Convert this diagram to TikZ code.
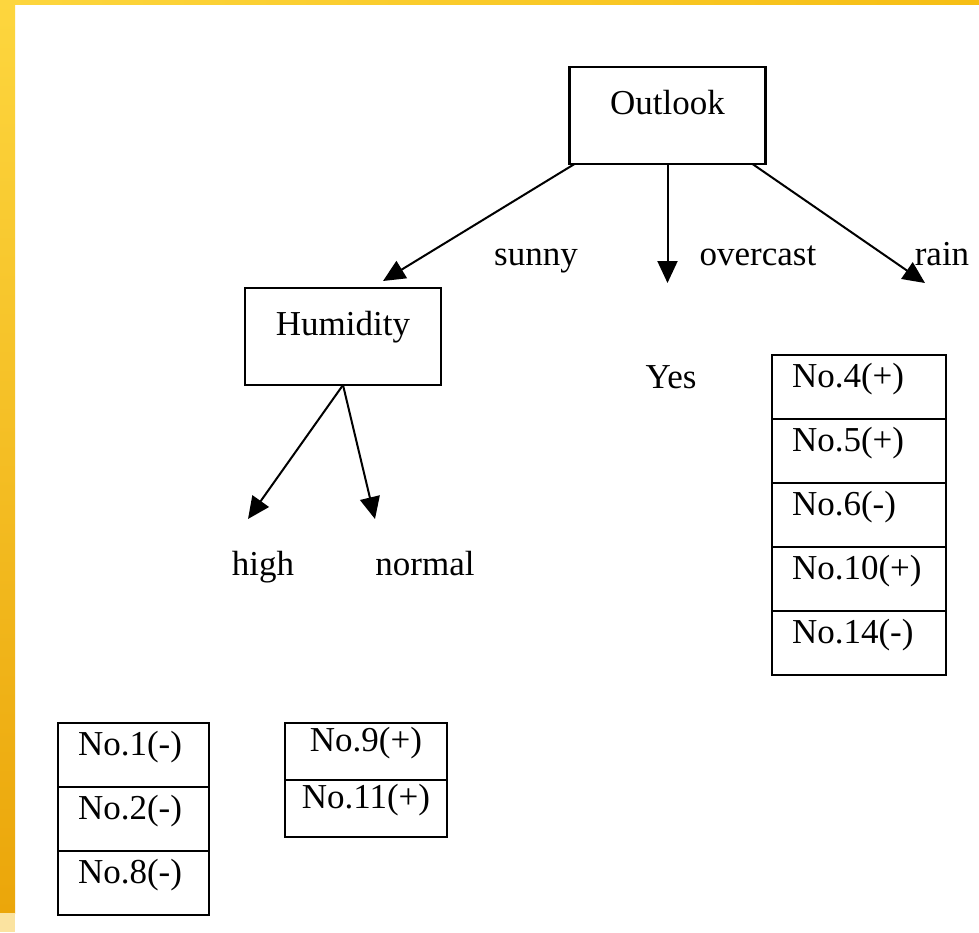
\documentclass[tikz,border=0pt]{standalone}
\usepackage{fontspec}
\setmainfont{Liberation Serif}
\usetikzlibrary{arrows.meta}
\definecolor{frameA}{HTML}{FDD63E}
\definecolor{frameB}{HTML}{EBA60A}
\definecolor{frameC}{HTML}{F6BE14}
\definecolor{frameD}{HTML}{FBE3A0}
\tikzset{
  every node/.style={font=\fontsize{17.5pt}{20pt}\selectfont},
  attrbox/.style={draw, line width=1.1pt, rectangle, outer sep=0pt, inner xsep=0pt, inner ysep=0pt,
    minimum width=98pt, text height=23.5pt, text depth=25pt},
  rowcell/.style={draw, line width=1.1pt, rectangle, anchor=north, outer sep=0pt, inner ysep=0pt,
    inner xsep=10pt, align=left, text height=16pt, text depth=16pt},
  midcell/.style={draw, line width=1.1pt, rectangle, anchor=north, outer sep=0pt, inner ysep=0pt,
    inner xsep=0pt, minimum width=81pt, text height=14pt, text depth=14.5pt},
  branch/.style={line width=1pt, -{Triangle[length=11pt,width=10pt]}},
  tag/.style={anchor=base, inner sep=0pt}
}
\begin{document}
\begin{tikzpicture}[x=0.5pt, y=-0.5pt]
  % page and frame
  \useasboundingbox (0,0) rectangle (979,932);
  \fill[white] (0,0) rectangle (979,932);
  \shade[top color=frameA, bottom color=frameB] (0,0) rectangle (15,913);
  \fill[frameD] (0,913) rectangle (15,932);
  \shade[left color=frameA, right color=frameC] (0,0) rectangle (979,4);

  % attribute nodes
  \node[attrbox, anchor=north] (outlook) at (667.5,67) {Outlook};
  \node[attrbox, anchor=north] (humidity) at (343,288) {Humidity};

  % arrow ends
  \coordinate (sunnyEnd) at (383,281);
  \coordinate (overcastEnd) at (667.5,283);
  \coordinate (rainEnd) at (925,283);
  \coordinate (highEnd) at (248,519);
  \coordinate (normalEnd) at (375,519);

  \draw[branch] ([xshift=2.5pt]outlook.south west) -- (sunnyEnd);
  \draw[branch] (outlook.south) -- (overcastEnd);
  \draw[branch] ([xshift=-6.5pt]outlook.south east) -- (rainEnd);
  \draw[branch] (humidity.south) -- (highEnd);
  \draw[branch] (humidity.south) -- (normalEnd);

  % branch labels
  \node[tag] (sunny) at (536,265) {sunny};
  \node[tag] (overcast) at (758,265) {overcast};
  \node[tag] (rain) at (942,265) {rain};
  \node[tag] (high) at (263,575) {high};
  \node[tag] (normal) at (425,575) {normal};
  \node[tag] (yes) at (671,388) {Yes};

  % rain examples
  \begin{scope}[every node/.append style={rowcell, text width=67pt}]
    \node (r1) at (859,355) {No.4(+)};
    \node (r2) at (r1.south) {No.5(+)};
    \node (r3) at (r2.south) {No.6(-)};
    \node (r4) at (r3.south) {No.10(+)};
    \node (r5) at (r4.south) {No.14(-)};
  \end{scope}

  % high humidity examples
  \begin{scope}[every node/.append style={rowcell, text width=55.5pt}]
    \node (h1) at (133.5,723) {No.1(-)};
    \node (h2) at (h1.south) {No.2(-)};
    \node (h3) at (h2.south) {No.8(-)};
  \end{scope}

  % normal humidity examples
  \node[midcell] (n1) at (366,723) {No.9(+)};
  \node[midcell] (n2) at (n1.south) {No.11(+)};
\end{tikzpicture}
\end{document}
